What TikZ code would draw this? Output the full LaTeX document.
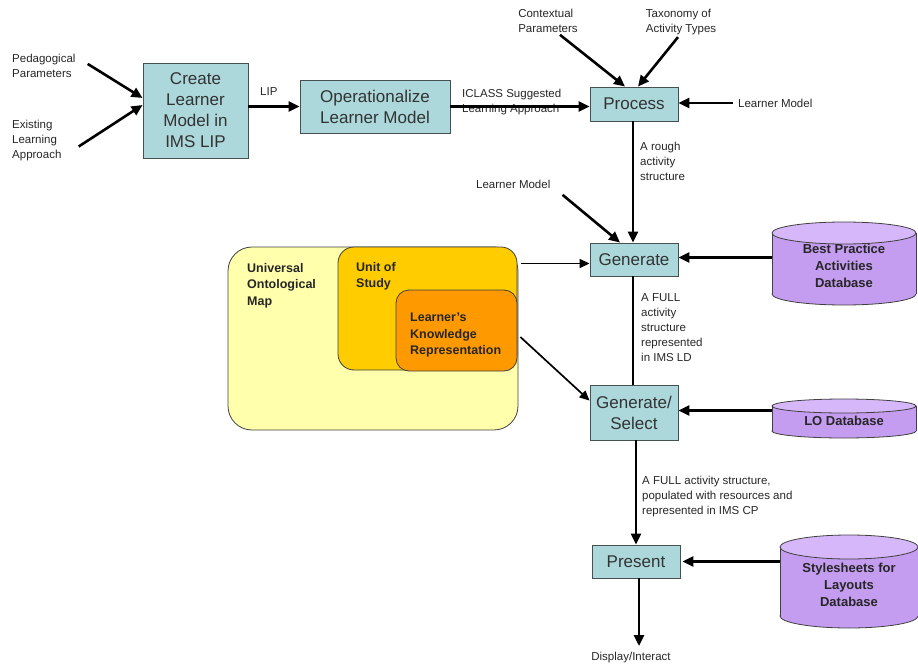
\documentclass[tikz,border=0pt]{standalone}
\usepackage{fontspec}
\setmainfont{Liberation Sans}
\usetikzlibrary{arrows.meta,calc}
\definecolor{boxfill}{RGB}{172,216,219}
\definecolor{boxline}{RGB}{70,80,80}
\definecolor{dbfill}{RGB}{196,156,240}
\definecolor{dbtop}{RGB}{214,184,250}
\definecolor{uomfill}{RGB}{255,255,172}
\definecolor{uosfill}{RGB}{255,204,0}
\definecolor{lkrfill}{RGB}{255,153,0}
\tikzset{
  procbox/.style={draw=boxline, line width=0.9pt, fill=boxfill, align=center, inner sep=0pt,
    font=\fontsize{17}{21}\selectfont, text=black!80},
  lbl/.style={inner sep=0pt, align=left, font=\fontsize{11.5}{15}\selectfont, text=black!85},
  boldlbl/.style={inner sep=0pt, align=left, font=\bfseries\fontsize{12.5}{16.5}\selectfont, text=black!85},
  dblbl/.style={inner sep=0pt, align=center, font=\bfseries\fontsize{13}{17}\selectfont, text=black!85},
  conn/.style={line width=2.6pt, -{Triangle[length=11pt,width=10pt]}},
  thin conn/.style={line width=1.7pt, -{Triangle[length=10pt,width=9pt]}},
  plainline/.style={line width=2.6pt},
  region/.style={draw=black!75, line width=0.8pt},
}
\newcommand{\dbcyl}[5]{% left, top, right, bottom, ry
  \fill[dbfill,draw=black!75,line width=0.8pt] ({(#1+#3)/2},{#4-#5}) ellipse ({(#3-#1)/2} and #5);
  \fill[dbfill] (#1,{#2+#5}) rectangle (#3,{#4-#5});
  \draw[black!75,line width=0.8pt] (#1,{#2+#5}) -- (#1,{#4-#5}) (#3,{#2+#5}) -- (#3,{#4-#5});
  \filldraw[fill=dbtop,draw=black!75,line width=0.8pt] ({(#1+#3)/2},{#2+#5}) ellipse ({(#3-#1)/2} and #5);
}
\begin{document}
\begin{tikzpicture}[x=1pt,y=-1pt]
\useasboundingbox (0,0) rectangle (918,666);
\clip (0,0) rectangle (918,666);

% process boxes
\node[procbox, minimum width=105pt, minimum height=95pt] (create) at (195.5,110.5) {Create\\Learner\\Model in\\IMS LIP};
\node[procbox, minimum width=150pt, minimum height=53pt] (oper) at (375,106.5) {Operationalize\\Learner Model};
\node[procbox, minimum width=88pt, minimum height=34pt] (proc) at (634,104) {Process};
\node[procbox, minimum width=88pt, minimum height=33pt] (gen) at (634,259.5) {Generate};
\node[procbox, minimum width=88pt, minimum height=55pt] (gensel) at (634,412.5) {Generate/\\Select};
\node[procbox, minimum width=88pt, minimum height=33pt] (pres) at (636,561.5) {Present};

% labels
\node[lbl, anchor=north west] (ped) at (12,54) {Pedagogical\\Parameters};
\node[lbl, anchor=north west] (exist) at (12,120) {Existing\\Learning\\Approach};
\node[lbl, anchor=north west] (lip) at (260,87) {LIP};
\node[lbl, anchor=north west] (iclass) at (462,89) {ICLASS Suggested\\Learning Approach};
\node[lbl, anchor=north, align=left] (ctx) at (548,9) {Contextual\\Parameters};
\node[lbl, anchor=north, align=left] (tax) at (681,9) {Taxonomy of\\Activity Types};
\node[lbl, anchor=west] (lm1) at (738,103) {Learner Model};
\node[lbl, anchor=north west] (rough) at (640,142) {A rough\\activity\\structure};
\node[lbl, anchor=north west] (lm2) at (476,180) {Learner Model};
\node[lbl, anchor=north west] (full1) at (641,293) {A FULL\\activity\\structure\\represented\\in IMS LD};
\node[lbl, anchor=north west] (full2) at (642,476) {A FULL activity structure,\\populated with resources and\\represented in IMS CP};
\node[lbl, anchor=north] (disp) at (631,652) {Display/Interact};

% ontology regions
\node[region, fill=uomfill, rounded corners=24pt, minimum width=290pt, minimum height=183pt, inner sep=0pt] (uom) at (373,338.5) {};
\node[region, fill=uosfill, rounded corners=16pt, minimum width=179pt, minimum height=123pt, inner sep=0pt] (uos) at (427.5,308.5) {};
\node[region, fill=lkrfill, rounded corners=13pt, minimum width=121pt, minimum height=81pt, inner sep=0pt] (lkr) at (456.5,330.5) {};
\node[boldlbl, anchor=north west] (uomt) at (247,263) {Universal\\Ontological\\Map};
\node[boldlbl, anchor=north west] (uost) at (356,262) {Unit of\\Study};
\node[boldlbl, anchor=north west] (lkrt) at (410,313) {Learner's\\Knowledge\\Representation};

% databases
\dbcyl{772}{222}{916}{305}{11}
\node[dblbl, minimum width=144pt, minimum height=61pt] (bp) at (844,266) {Best Practice\\Activities\\Database};
\dbcyl{772}{399}{916}{438}{7}
\node[dblbl, minimum width=144pt, minimum height=25pt] (lo) at (844,421) {LO Database};
\dbcyl{780}{535}{918}{628}{12}
\node[dblbl, minimum width=138pt, minimum height=69pt] (ss) at (849,585) {Stylesheets for\\Layouts\\Database};

% connectors
\draw[conn] ([xshift=12pt,yshift=2pt]ped.east) -- ([yshift=12.5pt]create.west);
\draw[conn] ([xshift=17pt,yshift=-6pt]exist.east) -- ([yshift=5.5pt]create.west);
\draw[conn] (create.east |- oper.west) -- (oper.west);
\draw[conn] (oper.east) -- (proc.west |- oper.east);
\draw[conn] ([xshift=12pt,yshift=-2pt]ctx.south) -- ([xshift=-9pt]proc.north);
\draw[conn] ([xshift=-3pt,yshift=-2pt]tax.south) -- ([xshift=4pt]proc.north);
\draw[conn] ([xshift=-5pt]lm1.west) -- (proc.east |- lm1.west);
\draw[conn] ([xshift=-1pt]proc.south) -- ([xshift=-1pt]gen.north);
\draw[conn] ([xshift=12pt,yshift=-6pt]lm2.south east) -- ([xshift=-14pt]gen.north);
\draw[thin conn] ([xshift=3pt,yshift=-4pt]uom.east |- gen.west) -- ([yshift=-4pt]gen.west);
\draw[thin conn] ([xshift=3pt,yshift=-6.5pt]lkr.east) -- (gensel.165);
\draw[conn] ([yshift=2pt]bp.west |- gen.east) -- ([yshift=2pt]gen.east);
\draw[plainline] ([xshift=-1pt]gen.south) -- ([xshift=-1pt]gensel.north);
\draw[conn] ([yshift=2pt]lo.west |- gensel.east) -- ([yshift=2pt]gensel.east);
\draw[conn] ([xshift=2pt]gensel.south) -- ([xshift=2pt]gensel.south |- pres.north);
\draw[conn] (ss.west |- pres.east) -- ([xshift=2pt]pres.east);
\draw[conn] ([xshift=3pt]pres.south) -- ([xshift=3pt,yshift=6pt]pres.south |- disp.north);
\end{tikzpicture}
\end{document}
